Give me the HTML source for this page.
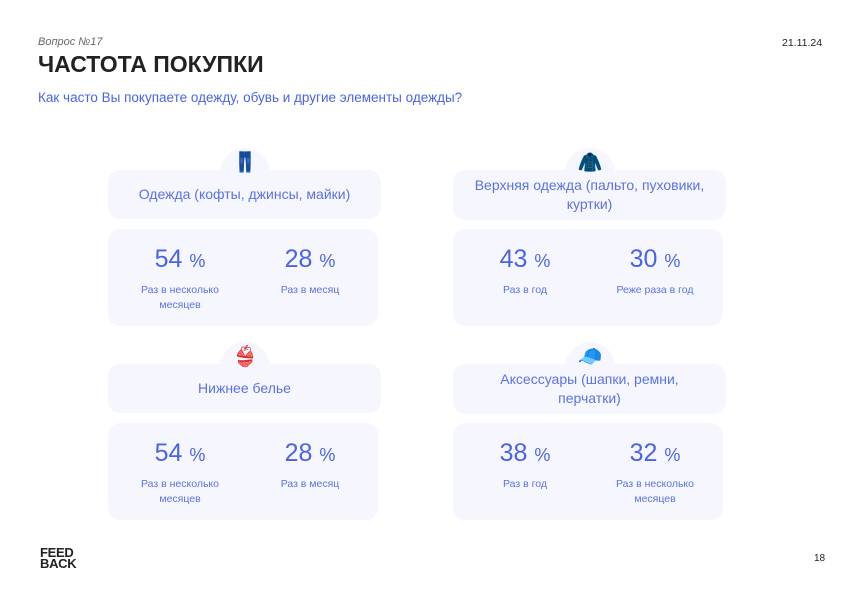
<!DOCTYPE html>
<html><head><meta charset="utf-8"><style>
body{margin:0;width:867px;height:600px;background:#fff;position:relative;overflow:hidden;font-family:"Liberation Sans","DejaVu Sans",sans-serif}
.a{position:absolute}
.box{position:absolute;background:#f6f7fe;border-radius:12px}
.tab{position:absolute;width:50px;height:50px;border-radius:50%;background:#f6f7fe}
.ttl{position:absolute;color:#5a72e6;font-size:14px;text-align:center;line-height:19px;display:flex;align-items:center;justify-content:center}
.num{position:absolute;color:#4a63e8;font-size:25px;text-align:center;width:120px}
.num span{font-size:18px}
.lbl{position:absolute;color:#5a72e6;font-size:10.5px;text-align:center;width:120px;line-height:15px}
.ico{position:absolute;font-size:20px;width:50px;text-align:center}
</style></head><body>
<div class="a" style="left:38px;top:36px;font-size:11px;font-style:italic;color:#666">Вопрос №17</div>
<div class="a" style="left:38px;top:51px;font-size:23px;font-weight:bold;color:#222">ЧАСТОТА ПОКУПКИ</div>
<div class="a" style="left:38px;top:90px;font-size:13.5px;color:#4a63e8">Как часто Вы покупаете одежду, обувь и другие элементы одежды?</div>
<div class="a" style="left:782px;top:37px;font-size:10.5px;color:#222">21.11.24</div>

<div id="cards"></div>

<div class="a" style="left:40px;top:547px;font-size:13px;font-weight:900;line-height:11px;color:#222;letter-spacing:-0.3px">FEED<br>BACK</div>
<div class="a" style="left:814px;top:553px;font-size:10px;color:#222">18</div>

<script>
const titles=["Одежда (кофты, джинсы, майки)","Верхняя одежда (пальто, пуховики, куртки)","Нижнее белье","Аксессуары (шапки, ремни,<br>перчатки)"];
const icons=["👖","🧥","👙","🧢"];
const valuesA=[54,43,54,38];
const labelsA=["Раз в несколько месяцев","Раз в год","Раз в несколько месяцев","Раз в год"];
const valuesB=[28,30,28,32];
const labelsB=["Раз в месяц","Реже раза в год","Раз в месяц","Раз в несколько месяцев"];
const wrap=document.getElementById('cards');
const lefts=[108,453],tops=[0,194];
const wrapLbl=s=>s==="Раз в несколько месяцев"?"Раз в несколько<br>месяцев":s;
titles.forEach((t,i)=>{
  const x=lefts[i%2],dy=tops[Math.floor(i/2)];
  const h=i%2?50:49;
  const c=document.createElement('div');
  
  
  c.innerHTML=`<div class="tab" style="left:${x+112}px;top:${148+dy}px"></div>
  <div class="box" style="left:${x}px;top:${170+dy}px;width:273px;height:${h}px"></div>
  <div class="ico" style="left:${x+112}px;top:${150+dy}px">${icons[i]}</div>
  <div class="ttl" style="left:${x+10}px;top:${170+dy}px;width:253px;height:${h}px">${t}</div>
  <div class="box" style="left:${x}px;top:${229+dy}px;width:270px;height:97px"></div>
  <div class="num" style="left:${x+12}px;top:${245+dy}px">${valuesA[i]} <span>%</span></div>
  <div class="lbl" style="left:${x+12}px;top:${283+dy}px">${wrapLbl(labelsA[i])}</div>
  <div class="num" style="left:${x+142}px;top:${245+dy}px">${valuesB[i]} <span>%</span></div>
  <div class="lbl" style="left:${x+142}px;top:${283+dy}px">${wrapLbl(labelsB[i])}</div>`;
  wrap.appendChild(c);
});
</script>
</body></html>
